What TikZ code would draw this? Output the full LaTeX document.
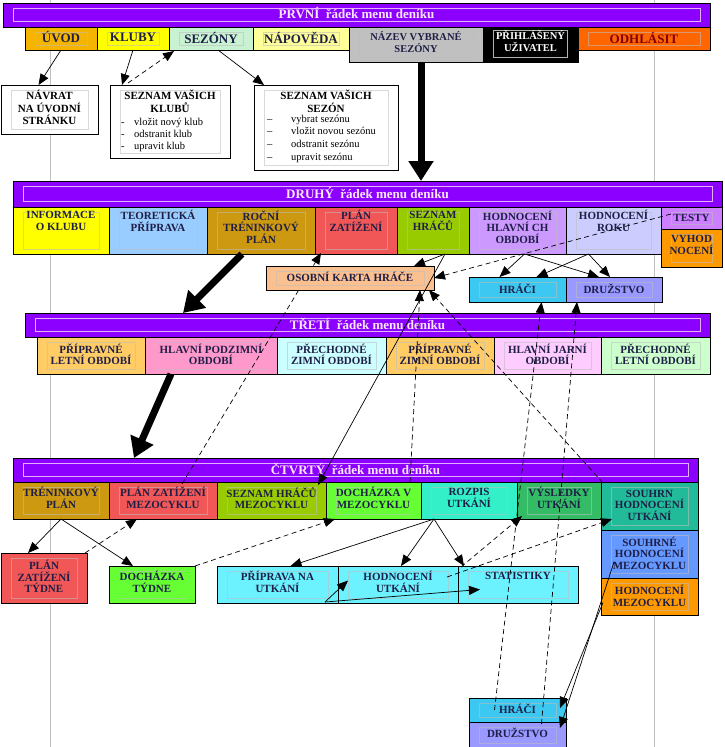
\documentclass[tikz,border=0pt]{standalone}
\usepackage{fontspec}
\setmainfont{Liberation Serif}
\usetikzlibrary{arrows.meta,calc}
\pgfdeclarelayer{bg}
\pgfsetlayers{bg,main}
\definecolor{purp}{HTML}{8B00FF}
\definecolor{cBarFrm}{HTML}{E6B0FF}
\definecolor{bartext}{HTML}{FFE8FF}
\definecolor{txtc}{HTML}{1E1E46}
\definecolor{guidec}{HTML}{C0C0C0}
\definecolor{cUvod}{HTML}{F5B400}
\definecolor{cYellow}{HTML}{FFFF00}
\definecolor{cSezony}{HTML}{C8F2D2}
\definecolor{cNapov}{HTML}{FFFF99}
\definecolor{cNazev}{HTML}{C0C0C0}
\definecolor{cOdh}{HTML}{FF6600}
\definecolor{odhtext}{HTML}{800000}
\definecolor{cBlue}{HTML}{99CCFF}
\definecolor{cGold}{HTML}{CC9910}
\definecolor{cRed}{HTML}{F25757}
\definecolor{cOlive}{HTML}{99CC00}
\definecolor{cLav}{HTML}{CC99FF}
\definecolor{cPaleLav}{HTML}{CCCCFF}
\definecolor{cTesty}{HTML}{CC80FF}
\definecolor{cOrange}{HTML}{FF9900}
\definecolor{cPeach}{HTML}{FAC090}
\definecolor{cCyan}{HTML}{3CC8F0}
\definecolor{cPeri}{HTML}{9999FF}
\definecolor{cLtOrange}{HTML}{FFCC66}
\definecolor{cPink}{HTML}{FF99CC}
\definecolor{cPaleCyan}{HTML}{CCFFFF}
\definecolor{cPalePink}{HTML}{FFCCFF}
\definecolor{cPaleGreen}{HTML}{CCFFCC}
\definecolor{cGreen}{HTML}{66FF33}
\definecolor{cAqua}{HTML}{33F0C8}
\definecolor{cVys}{HTML}{33BB66}
\definecolor{cTeal}{HTML}{22BB99}
\definecolor{cMezBlue}{HTML}{6699FF}
\definecolor{cLtCyan}{HTML}{6CF2FF}
\tikzset{
  bxs/.style={draw=black,line width=0.8pt,inner sep=0pt,outer sep=0pt,rectangle},
  txt/.style={inner sep=0pt,align=center,text=txtc,font=\bfseries\fontsize{11}{11.5}\selectfont},
  ta/.style={font=\bfseries\fontsize{13}{14}\selectfont},
  tb/.style={font=\bfseries\fontsize{10.5}{12}\selectfont},
  ttl/.style={text=black,font=\bfseries\fontsize{11}{13}\selectfont},
  nv/.style={text=black,font=\bfseries\fontsize{11}{12.5}\selectfont},
  lst/.style={inner sep=0pt,align=left,text=black,font=\fontsize{10.5}{12}\selectfont},
  lsts/.style={lst,font=\fontsize{10.5}{12.7}\selectfont},
  barst/.style={fill=purp,draw=black,line width=0.8pt,inner sep=0pt,outer sep=0pt,rectangle},
  barframe/.style={draw=cBarFrm,line width=0.6pt},
  bartxt/.style={inner sep=0pt,text=bartext,font=\bfseries\fontsize{13}{14}\selectfont},
  con/.style={draw=black,line width=0.7pt,-{Triangle[length=11pt,width=9pt]}},
  dcon/.style={con,dash pattern=on 5pt off 3.5pt},
  big/.style={draw=black,line width=7pt,-{Triangle[length=20pt,width=24pt]}},
  guide/.style={draw=guidec,line width=1pt}
}
% box: name, x1, y1, x2, y2, fill, text centre y, text style, text
\newcommand\bx[9]{%
  \node[bxs,fill=#6,minimum width={#4pt-#2pt},minimum height={#5pt-#3pt},anchor=north west] (#1) at (#2,#3) {};
  \draw[draw=#6!50!white!85!black,line width=0.6pt] ($(#1.north west)+(10,5)$) rectangle ($(#1.south east)+(-10,-5)$);
  \node[txt,#8] (#1-t) at ({(#2+#4)/2},#7) {#9};
}
% bar: name, x1, y1, x2, y2, text
\newcommand\barbox[6]{%
  \node[barst,minimum width={#4pt-#2pt},minimum height={#5pt-#3pt},anchor=north west] (#1) at (#2,#3) {};
  \draw[barframe] ($(#1.north west)+(10,5)$) rectangle ($(#1.south east)+(-10,-6)$);
  \node[bartxt] (#1-t) at ({(#2+#4)/2},{(#3+#5)/2-1.5}) {#6};
}
\begin{document}
\begin{tikzpicture}[x=1pt,y=-1pt]
\useasboundingbox (0,0) rectangle (724,747);
\begin{pgfonlayer}{bg}
  \draw[guide] (50,0) -- (50,747);
  \draw[guide] (654,0) -- (654,747);
\end{pgfonlayer}

% ---------- row 1 ----------
\barbox{prvni}{3}{3}{710}{27}{PRVNÍ\ \ řádek menu deníku}
\bx{uvod}{25}{27}{97}{50}{cUvod}{37.5}{ta}{ÚVOD}
\bx{kluby}{97}{27}{169}{50}{cYellow}{37.5}{ta}{KLUBY}
\bx{sezony}{169}{27}{253}{50}{cSezony}{37.5}{ta}{SEZÓNY}
\bx{napoveda}{253}{27}{349}{50}{cNapov}{37.5}{ta}{NÁPOVĚDA}
\bx{nazev}{349}{27}{483}{62}{cNazev}{42}{tb}{NÁZEV VYBRANÉ\\SEZÓNY}
\node[bxs,fill=black,minimum width=95pt,minimum height=35pt,anchor=north west] (prihlaseny) at (483,27) {};
\draw[draw=gray!60!white,line width=0.6pt] ($(prihlaseny.north west)+(10,3)$) rectangle ($(prihlaseny.south east)+(-11,-5)$);
\node[txt,tb,text=white] (prihlaseny-t) at (530.5,41) {PŘIHLÁŠENÝ\\UŽIVATEL};
\bx{odhlasit}{578}{27}{710}{50}{cOdh}{37.5}{ta,text=odhtext}{ODHLÁSIT}

\bx{navrat}{1}{85}{98}{134}{white}{107.5}{nv}{NÁVRAT\\NA ÚVODNÍ\\STRÁNKU}
\bx{sklubu}{110}{85}{230}{158}{white}{101.5}{ttl}{SEZNAM VAŠICH\\KLUBŮ}
\node[lst,anchor=north west] (sklubu-l) at (121,117.5) {\makebox[13pt][l]{-}vložit nový klub\\\makebox[13pt][l]{-}odstranit klub\\\makebox[13pt][l]{-}upravit klub};
\bx{ssezon}{254}{85}{398}{170}{white}{101.5}{ttl}{SEZNAM VAŠICH\\SEZÓN}
\node[lsts,anchor=north west] (ssezon-l) at (267,114.5) {\makebox[24pt][l]{–}vybrat sezónu\\\makebox[24pt][l]{–}vložit novou sezónu\\\makebox[24pt][l]{–}odstranit sezónu\\\makebox[24pt][l]{–}upravit sezónu};

% ---------- row 2 ----------
\barbox{druhy}{13}{181}{722}{207}{DRUHÝ\ \ řádek menu deníku}
\bx{info}{13}{207}{109}{254}{cYellow}{221}{}{INFORMACE\\O KLUBU}
\bx{teor}{109}{207}{207}{254}{cBlue}{221}{}{TEORETICKÁ\\PŘÍPRAVA}
\bx{rocni}{207}{207}{315}{254}{cGold}{227}{}{ROČNÍ\\TRÉNINKOVÝ\\PLÁN}
\bx{planzat}{315}{207}{397}{254}{cRed}{221}{}{PLÁN\\ZATÍŽENÍ}
\bx{seznamhr}{397}{207}{469}{254}{cOlive}{221}{}{SEZNAM\\HRÁČŮ}
\bx{hodhlav}{469}{207}{566}{254}{cLav}{227}{}{HODNOCENÍ\\HLAVNÍ CH\\OBDOBÍ}
\bx{hodrok}{566}{207}{661}{254}{cPaleLav}{221}{}{HODNOCENÍ\\ROKU}
\bx{testy}{661}{207}{722}{229}{cTesty}{217.5}{}{TESTY}
\bx{vyhod}{661}{229}{722}{267}{cOrange}{245}{}{VYHOD\\NOCENÍ}
\bx{hraci}{469}{277}{566}{302}{cCyan}{288.5}{}{HRÁČI}
\bx{druzstvo}{566}{277}{662}{302}{cPeri}{288.5}{}{DRUŽSTVO}

% ---------- row 3 ----------
\barbox{treti}{25}{313}{710}{337}{TŘETÍ\ \ řádek menu deníku}
\bx{prletni}{37}{337}{145}{374}{cLtOrange}{354.5}{}{PŘÍPRAVNÉ\\LETNÍ OBDOBÍ}
\bx{hlpodz}{145}{337}{277}{374}{cPink}{354.5}{}{HLAVNÍ PODZIMNÍ\\OBDOBÍ}
\bx{prechzim}{277}{337}{386}{374}{cPaleCyan}{354.5}{}{PŘECHODNÉ\\ZIMNÍ OBDOBÍ}
\bx{przim}{386}{337}{494}{374}{cLtOrange}{354.5}{}{PŘÍPRAVNÉ\\ZIMNÍ OBDOBÍ}
\bx{hljar}{494}{337}{601}{374}{cPalePink}{354.5}{}{HLAVNÍ JARNÍ\\OBDOBÍ}
\bx{prechlet}{601}{337}{710}{374}{cPaleGreen}{354.5}{}{PŘECHODNÉ\\LETNÍ OBDOBÍ}

% ---------- row 4 ----------
\barbox{ctvrty}{13}{458}{698}{482}{ČTVRTÝ\ \ řádek menu deníku}
\bx{trenplan}{13}{482}{109}{519}{cGold}{498}{}{TRÉNINKOVÝ\\PLÁN}
\bx{planmez}{109}{482}{217}{519}{cRed}{498}{}{PLÁN ZATÍŽENÍ\\MEZOCYKLU}
\bx{seznammez}{217}{482}{326}{519}{cOlive}{498}{}{SEZNAM HRÁČŮ\\MEZOCYKLU}
\bx{dochmez}{326}{482}{421}{519}{cGreen}{498}{}{DOCHÁZKA V\\MEZOCYKLU}
\bx{rozpis}{421}{482}{517}{519}{cAqua}{498}{}{ROZPIS\\UTKÁNÍ}
\bx{vysledky}{517}{482}{601}{519}{cVys}{498}{}{VÝSLEDKY\\UTKÁNÍ}
\bx{souhrnut}{601}{482}{698}{530}{cTeal}{505}{}{SOUHRN\\HODNOCENÍ\\UTKÁNÍ}
\bx{souhrnmez}{601}{530}{698}{578}{cMezBlue}{553}{}{SOUHRNÉ\\HODNOCENÍ\\MEZOCYKLU}
\bx{hodmez}{601}{578}{698}{615}{cOrange}{596}{}{HODNOCENÍ\\MEZOCYKLU}

\bx{plantyd}{1}{553}{87}{603}{cRed}{576.5}{}{PLÁN\\ZATÍŽENÍ\\TÝDNE}
\bx{dochtyd}{109}{566}{195}{603}{cGreen}{582}{}{DOCHÁZKA\\TÝDNE}
\bx{priprava}{217}{566}{338}{603}{cLtCyan}{582}{}{PŘÍPRAVA NA\\UTKÁNÍ}
\bx{hodut}{338}{566}{458}{603}{cLtCyan}{582}{}{HODNOCENÍ\\UTKÁNÍ}
\bx{statistiky}{458}{566}{578}{603}{cLtCyan}{576}{}{STATISTIKY}
\bx{hraci2}{469}{698}{566}{722}{cCyan}{709}{}{HRÁČI}
\bx{druzstvo2}{469}{722}{566}{748}{cPeri}{732.5}{}{DRUŽSTVO}

% line hidden behind the personal card
\draw[dcon] ($(planmez.north)+(19,2)$) -- ($(planzat.south west)+(6,-1)$);
\bx{osobni}{266}{266}{434}{290}{cPeach}{277}{}{OSOBNÍ KARTA HRÁČE}

% ---------- connectors row 1 ----------
\draw[con] (uvod.south) -- ($(navrat.north)+(-11,0)$);
\draw[con] (kluby.south) -- ($(sklubu.north west)+(12,0)$);
\draw[dcon] ($(sklubu.north west)+(18,-2)$) -- ($(sezony.south west)+(5,1)$);
\draw[con] ($(sezony.south)+(7,0)$) -- ($(ssezon.north west)+(10,0)$);
\coordinate (t1) at ($(nazev.south)+(5,0)$);
\draw[big] (t1) -- (t1 |- druhy.north);

% ---------- connectors row 2 ----------
\draw[con] ($(seznamhr.south)+(12,0)$) -- ($(osobni.north east)+(-20,0)$);
\draw[con] ($(seznamhr.south)+(12,0)$) -- ($(seznammez.north east)+(-8,3)$);
\draw[dcon] ($(testy.west)+(10,-4)$) -- (osobni.east);
\draw[dcon] ($(dochmez.north east)+(-11,0)$) -- ($(osobni.south east)+(-14,0)$);
\draw[dcon] ($(souhrnut.north west)+(2,1)$) -- ($(osobni.south east)+(-5,0)$);
\draw[con] ($(hodhlav.south)+(7,0)$) -- ($(hraci.north)+(-18,0)$);
\draw[con] ($(hodhlav.south)+(7,0)$) -- ($(druzstvo.north)+(-15,0)$);
\draw[con] ($(hodrok.south)+(-25,0)$) -- ($(hraci.north)+(19,0)$);
\draw[con] ($(hodrok.south)+(-25,0)$) -- ($(druzstvo.north)+(-4,0)$);
\draw[dcon] ($(hraci2.north)+(-23,12)$) -- ($(hraci.south)+(24,0)$);
\draw[dcon] ($(druzstvo2.north)+(24,2)$) -- ($(druzstvo.south)+(-37,0)$);
\draw[big] ($(rocni.south)+(-19,0)$) -- ($(treti.north)+(-184.5,0)$);

% ---------- connectors row 3/4 ----------
\draw[big] ($(hlpodz.south)+(-40,0)$) -- ($(ctvrty.north)+(-221.5,0)$);
\draw[con] (trenplan.south) -- ($(plantyd.north)+(-16,0)$);
\draw[con] (trenplan.south) -- ($(dochtyd.north)+(-19,0)$);
\draw[dcon] ($(plantyd.north east)+(-2,0)$) -- ($(planmez.south)+(-26,0)$);
\draw[dcon] (dochtyd.north east) -- ($(dochmez.south west)+(9,0)$);
\draw[con] ($(rozpis.south)+(-35,0)$) -- ($(priprava.north)+(13,0)$);
\draw[con] ($(rozpis.south)+(-35,0)$) -- ($(hodut.north)+(3,0)$);
\draw[con] ($(rozpis.south)+(-35,0)$) -- ($(statistiky.north west)+(6,0)$);
\draw[dcon] ($(hodut.north east)+(3,1)$) -- ($(vysledky.south west)+(5,-3)$);
\draw[dcon] ($(hodut.north east)+(-11,11)$) -- ($(souhrnut.west)+(11,13)$);
\draw[con] ($(priprava.south east)+(-13,-1)$) -- ($(hodut.west)+(10,-4)$);
\draw[con] ($(priprava.south east)+(-13,-1)$) -- ($(statistiky.west)+(22,5)$);
\draw[con] ($(souhrnmez.west)+(13,8)$) -- ($(druzstvo2.north east)+(-6,6)$);
\draw[con] ($(hodmez.west)+(2,6)$) -- ($(hraci2.east)+(-6,-2)$);
\end{tikzpicture}
\end{document}
